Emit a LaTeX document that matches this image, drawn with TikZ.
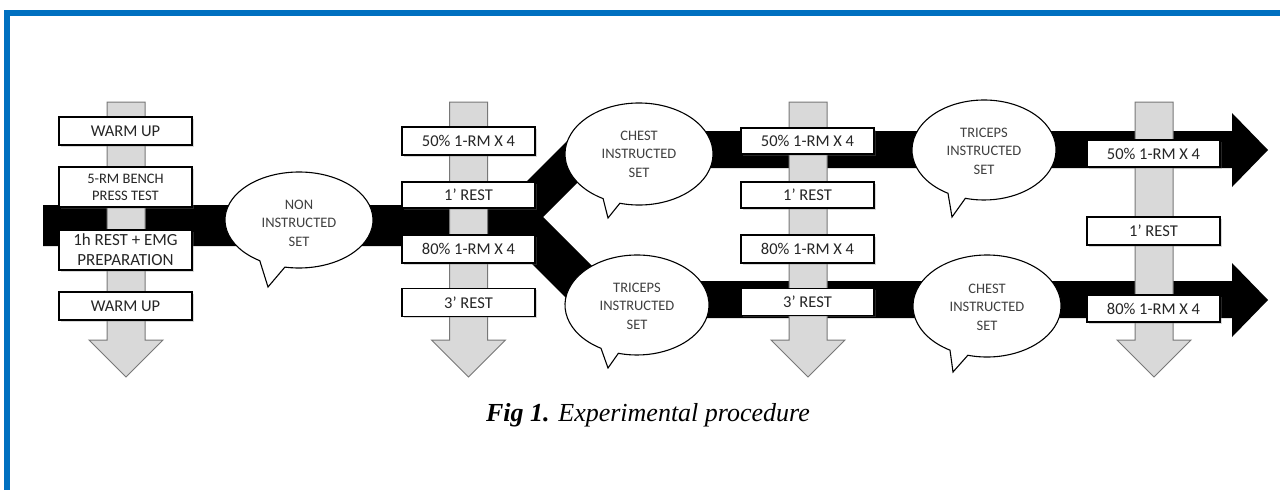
\documentclass[tikz,border=0pt]{standalone}
\usepackage{fontspec}
\setmainfont{Liberation Serif}
\newfontfamily\calib{Carlito}
\usetikzlibrary{shadows}
\definecolor{frameblue}{RGB}{0,112,192}
\definecolor{shaftgrey}{RGB}{217,217,217}
\definecolor{shaftline}{RGB}{120,120,120}
\definecolor{boxtext}{RGB}{38,38,38}
\definecolor{bubtext}{RGB}{64,64,64}
\newcommand{\greyarrow}[1]{%
  \filldraw[shaftstyle] (#1-19,102) -- (#1+19,102) -- (#1+19,340) -- (#1+37,340)
    -- (#1,377) -- (#1-37,340) -- (#1-19,340) -- cycle;}
\newcommand{\speechbubble}[8]{%
  \filldraw[bubblestyle] ([shift={(#1,#2)}]#5:#3 and #4) -- (#7,#8)
    -- ([shift={(#1,#2)}]#6:#3 and #4)
    arc[start angle=#6, end angle=#5+360, x radius=#3, y radius=#4] -- cycle;}
\tikzset{
  shaftstyle/.style={fill=shaftgrey, draw=shaftline, line width=1pt, line join=miter},
  band/.style={fill=black, draw=none},
  stepbox/.style={draw=black, fill=white, line width=1.4pt, minimum width=133pt,
    minimum height=28pt, inner sep=0pt, text=boxtext,
    font=\calib\fontsize{16.5}{19}\selectfont, align=center,
    drop shadow={shadow xshift=1.5pt, shadow yshift=-1.5pt, opacity=0.3}},
  tallbox/.style={stepbox, minimum height=40pt},
  bubblestyle/.style={fill=white, draw=black, line width=1.1pt},
  bubtxt/.style={text=bubtext, align=center, inner sep=0pt,
    font=\calib\fontsize{14.5}{18.5}\selectfont},
}
\begin{document}
\begin{tikzpicture}[x=1pt,y=-1pt]
\useasboundingbox (0,0) rectangle (1280,490);
\fill[white] (0,0) rectangle (1280,490);
% frame
\fill[frameblue] (4,10) rectangle (1280,16);
\fill[frameblue] (4,10) rectangle (10,490);
% black bands
\fill[band] (43,205) -- (503,205) -- (592,116) -- (620,140) -- (543,217)
  -- (620,294) -- (580,312) -- (514,246) -- (43,246) -- cycle;
\fill[band] (639,131) -- (1232,131) -- (1232,113) -- (1268,150) -- (1232,187)
  -- (1232,168) -- (639,168) -- cycle;
\fill[band] (637,281) -- (1232,281) -- (1232,263) -- (1268,300) -- (1232,337)
  -- (1232,318) -- (637,318) -- cycle;
% grey arrows
\greyarrow{126}
\greyarrow{468.5}
\greyarrow{808}
\greyarrow{1154}
% column 1
\node[stepbox] (c1a) at (125.5,131) {WARM UP};
\node[tallbox, font=\calib\fontsize{14.5}{17}\selectfont] (c1b) at (125.5,187) {5-RM BENCH\\PRESS TEST};
\node[tallbox, font=\calib\fontsize{17}{20}\selectfont] (c1c) at (125.5,250) {1h REST + EMG\\PREPARATION};
\node[stepbox] (c1d) at (125.5,306) {WARM UP};
% column 2
\node[stepbox] (c2a) at (468.5,141) {50\% 1-RM X 4};
\node[stepbox, minimum height=26pt] (c2b) at (468.5,195) {1’ REST};
\node[stepbox] (c2c) at (468.5,249) {80\% 1-RM X 4};
\node[stepbox] (c2d) at (468.5,302.5) {3’ REST};
% column 3
\node[stepbox, minimum height=26pt] (c3a) at (807.5,141) {50\% 1-RM X 4};
\node[stepbox, minimum height=26pt] (c3b) at (807.5,195) {1’ REST};
\node[stepbox] (c3c) at (807.5,249) {80\% 1-RM X 4};
\node[stepbox, minimum height=27pt] (c3d) at (807.5,302) {3’ REST};
% column 4
\node[stepbox, minimum height=27pt] (c4a) at (1153.5,153.5) {50\% 1-RM X 4};
\node[stepbox] (c4b) at (1153.5,231) {1’ REST};
\node[stepbox, minimum height=27pt] (c4c) at (1153.5,308.5) {80\% 1-RM X 4};
% speech bubbles
\speechbubble{299}{220}{74}{48}{101}{122}{268}{287}
\node[bubtxt] (non) at (299,223) {NON\\INSTRUCTED\\SET};
\speechbubble{639}{154}{74}{51}{105}{119}{608}{218}
\node[bubtxt] (chest1) at (639,154) {CHEST\\INSTRUCTED\\SET};
\speechbubble{637}{305}{72}{50}{105}{120}{608}{368}
\node[bubtxt] (tri1) at (637,306) {TRICEPS\\INSTRUCTED\\SET};
\speechbubble{984}{150}{72}{50}{105}{120}{952}{217}
\node[bubtxt] (tri2) at (984,151) {TRICEPS\\INSTRUCTED\\SET};
\speechbubble{987}{306}{74}{51}{105}{120}{953}{372}
\node[bubtxt] (chest2) at (987,307) {CHEST\\INSTRUCTED\\SET};
% caption
\node[anchor=base, inner sep=0pt, font=\fontsize{26}{30}\selectfont] (cap) at (648,421)
  {\textbf{\textit{Fig 1.}} \textit{Experimental procedure}};
\end{tikzpicture}
\end{document}
